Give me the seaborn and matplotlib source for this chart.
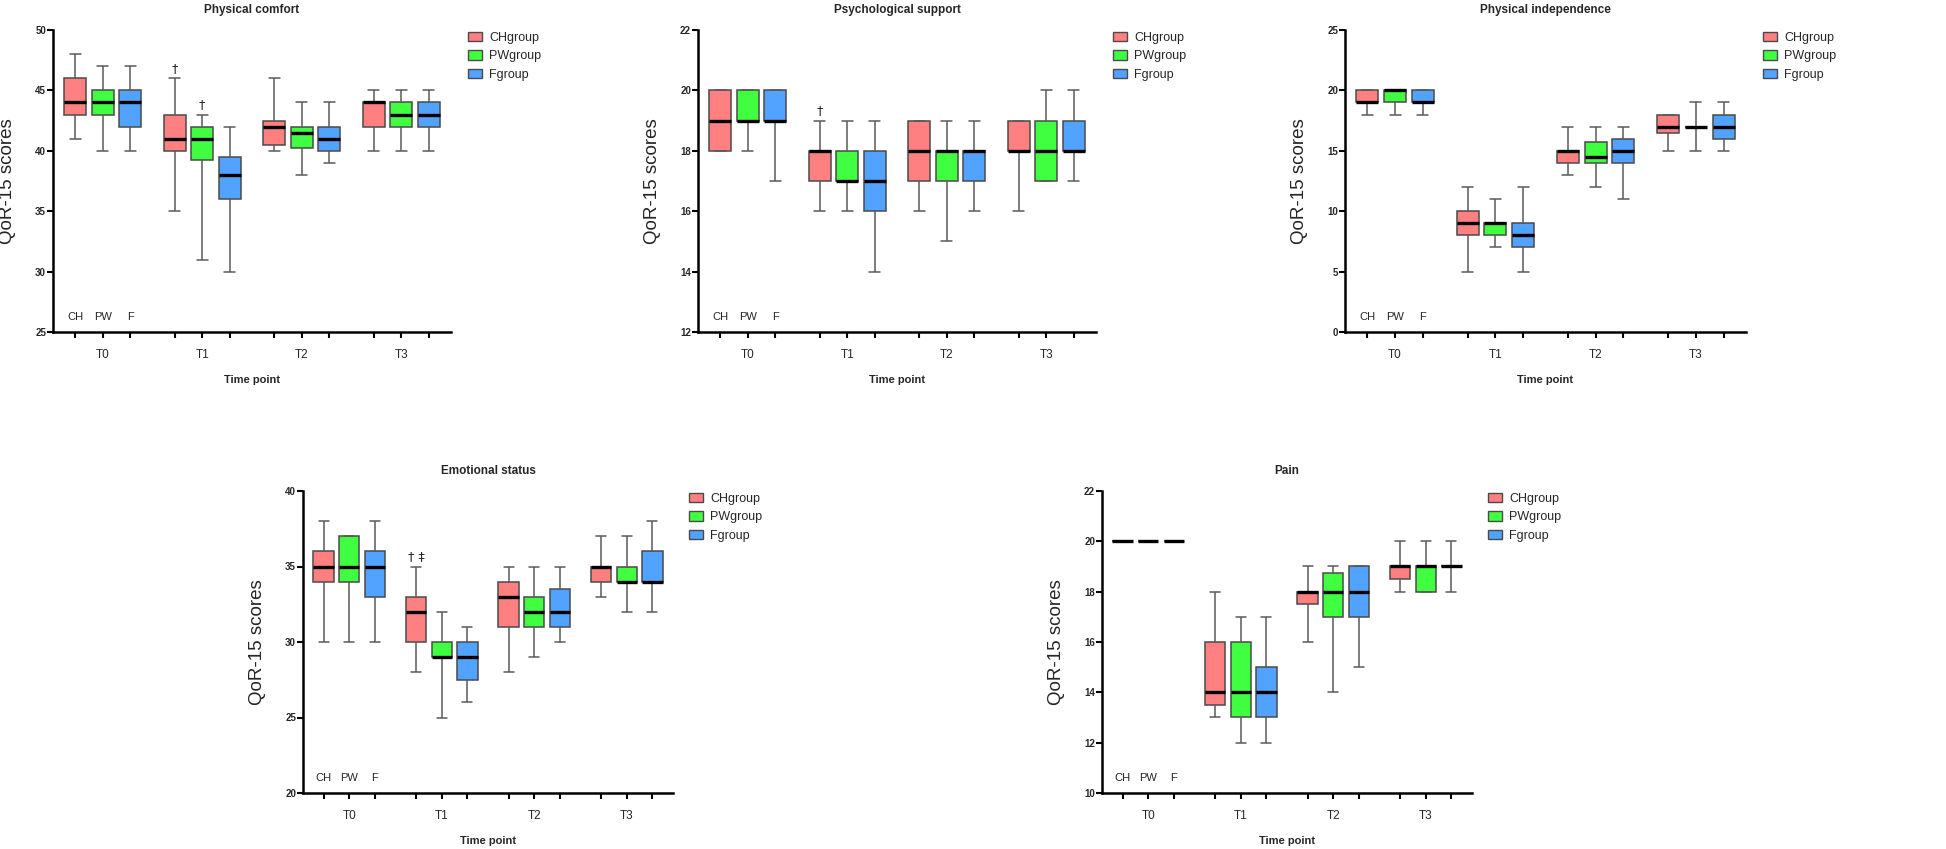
import numpy as np
import pandas as pd
import matplotlib
matplotlib.use("Agg")
import matplotlib.pyplot as plt
from matplotlib.patches import Patch
import matplotlib.transforms as mtransforms
import seaborn as sns

# ---------------- data (five-number summaries: min, Q1, median, Q3, max) -------------
time_points = ["T0", "T1", "T2", "T3"]
groups = ["CHgroup", "PWgroup", "Fgroup"]
short_groups = ["CH", "PW", "F"]
palette = ["#FF8080", "#40FF40", "#52A2FF"]

panel_titles = ["Physical comfort", "Psychological support", "Physical independence",
                "Emotional status", "Pain"]
y_limits = [(25, 50), (12, 22), (0, 25), (20, 40), (10, 22)]
y_steps = [5, 2, 5, 5, 2]

# order: [T][group] -> [min, q1, median, q3, max]
physical_comfort = [
    [[41, 43, 44, 46, 48], [40, 43, 44, 45, 47], [40, 42, 44, 45, 47]],
    [[35, 40, 41, 43, 46], [31, 39.25, 41, 42, 43], [30, 36, 38, 39.5, 42]],
    [[40, 40.5, 42, 42.5, 46], [38, 40.25, 41.5, 42, 44], [39, 40, 41, 42, 44]],
    [[40, 42, 44, 44, 45], [40, 42, 43, 44, 45], [40, 42, 43, 44, 45]],
]
psychological_support = [
    [[18, 18, 19, 20, 20], [18, 19, 19, 20, 20], [17, 19, 19, 20, 20]],
    [[16, 17, 18, 18, 19], [16, 17, 17, 18, 19], [14, 16, 17, 18, 19]],
    [[16, 17, 18, 19, 19], [15, 17, 18, 18, 19], [16, 17, 18, 18, 19]],
    [[16, 18, 18, 19, 19], [17, 17, 18, 19, 20], [17, 18, 18, 19, 20]],
]
physical_independence = [
    [[18, 19, 19, 20, 20], [18, 19, 20, 20, 20], [18, 19, 19, 20, 20]],
    [[5, 8, 9, 10, 12], [7, 8, 9, 9, 11], [5, 7, 8, 9, 12]],
    [[13, 14, 15, 15, 17], [12, 14, 14.5, 15.75, 17], [11, 14, 15, 16, 17]],
    [[15, 16.5, 17, 18, 18], [15, 17, 17, 17, 19], [15, 16, 17, 18, 19]],
]
emotional_status = [
    [[30, 34, 35, 36, 38], [30, 34, 35, 37, 37], [30, 33, 35, 36, 38]],
    [[28, 30, 32, 33, 35], [25, 29, 29, 30, 32], [26, 27.5, 29, 30, 31]],
    [[28, 31, 33, 34, 35], [29, 31, 32, 33, 35], [30, 31, 32, 33.5, 35]],
    [[33, 34, 35, 35, 37], [32, 34, 34, 35, 37], [32, 34, 34, 36, 38]],
]
pain = [
    [[20, 20, 20, 20, 20], [20, 20, 20, 20, 20], [20, 20, 20, 20, 20]],
    [[13, 13.5, 14, 16, 18], [12, 13, 14, 16, 17], [12, 13, 14, 15, 17]],
    [[16, 17.5, 18, 18, 19], [14, 17, 18, 18.75, 19], [15, 17, 18, 19, 19]],
    [[18, 18.5, 19, 19, 20], [18, 18, 19, 19, 20], [18, 19, 19, 19, 20]],
]
panel_data = [physical_comfort, psychological_support, physical_independence,
              emotional_status, pain]

# significance marks: (panel, time index, group index, text)
sig_marks = [(0, 1, 0, "\u2020"), (0, 1, 1, "\u2020"), (1, 1, 0, "\u2020"),
             (3, 1, 0, "\u2020 \u2021")]

# ---------------- style -------------
sns.set_theme(style="ticks")
plt.rcParams["font.family"] = ["Liberation Sans", "DejaVu Sans"]

fig = plt.figure(figsize=(19.46, 8.49), dpi=100)
W, H = 1946, 849
rects_px = [(53, 30, 398, 302), (698, 30, 398, 302), (1345, 30, 401, 302),
            (303, 491, 370, 302), (1102, 491, 370, 302)]

width = 0.83
gap = 0.2
offsets = np.array([-1, 0, 1]) * width / 3

for p, (title, data, ylim, step) in enumerate(zip(panel_titles, panel_data, y_limits, y_steps)):
    x0, y0, w, h = rects_px[p]
    ax = fig.add_axes([x0 / W, 1 - (y0 + h) / H, w / W, h / H])

    rows = []
    for ti, t in enumerate(time_points):
        for gi, g in enumerate(groups):
            for v in data[ti][gi]:
                rows.append({"time": t, "group": g, "score": v})
    df = pd.DataFrame(rows)

    sns.boxplot(data=df, x="time", y="score", hue="group", order=time_points,
                hue_order=groups, palette=palette, width=width, gap=gap,
                whis=(0, 100), linecolor="#4a4a4a", linewidth=1.1, saturation=1,
                medianprops=dict(color="black", linewidth=2.4),
                whiskerprops=dict(color="#5a5a5a", linewidth=1.1),
                capprops=dict(color="#5a5a5a", linewidth=1.1),
                legend=False, ax=ax)

    ax.set_xlim(-0.5, 3.5)
    ax.set_ylim(*ylim)
    ax.set_yticks(np.arange(ylim[0], ylim[1] + 0.01, step))
    ax.yaxis.set_major_formatter(matplotlib.ticker.FormatStrFormatter("%d"))
    for lab in ax.get_yticklabels():
        lab.set_fontweight("bold")
    ax.tick_params(axis="y", labelsize=7, length=4, width=1.5, pad=1, color="black")

    centers = np.arange(len(time_points))
    ax.set_xticks(centers)
    ax.set_xticklabels(time_points)
    minor = np.concatenate([centers + offsets[0], centers + offsets[2]])
    ax.set_xticks(minor, minor=True)
    ax.tick_params(axis="x", which="both", length=4.3, width=1.5, color="black")
    ax.tick_params(axis="x", which="major", labelsize=8.5, pad=8)

    sns.despine(ax=ax)
    for s in ["left", "bottom"]:
        ax.spines[s].set_linewidth(1.8)
        ax.spines[s].set_color("black")

    ax.set_title(title, fontsize=8.5, fontweight="bold", pad=12)
    ax.set_xlabel("Time point", fontsize=8, fontweight="bold", labelpad=10)
    ax.set_ylabel("QoR-15 scores", fontsize=13.5, labelpad=14)

    trans = mtransforms.blended_transform_factory(ax.transData, ax.transAxes)
    for gi, sg in enumerate(short_groups):
        ax.text(offsets[gi], 0.05, sg, transform=trans, ha="center", va="center",
                fontsize=8)

    handles = [Patch(facecolor=c, edgecolor="#4a4a4a", linewidth=1.0) for c in palette]
    ax.legend(handles, groups, loc="upper left", bbox_to_anchor=(1.043, 0.995),
              frameon=False, fontsize=9, handlelength=1.1, handleheight=0.75,
              handletextpad=0.6, labelspacing=0.55, borderpad=0, borderaxespad=0)

for p, ti, gi, txt in sig_marks:
    ax = fig.axes[p]
    top = panel_data[p][ti][gi][4]
    yr = y_limits[p][1] - y_limits[p][0]
    ax.text(ti + offsets[gi], top + yr * 0.012, txt, ha="center", va="bottom",
            fontsize=9, family=["DejaVu Sans"])

fig.savefig("out.png", dpi=100)
